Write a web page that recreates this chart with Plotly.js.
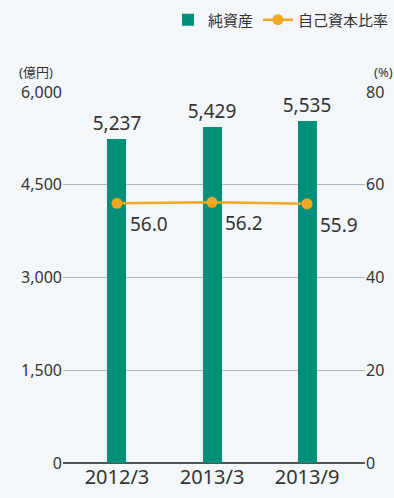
<!DOCTYPE html>
<html><head><meta charset="utf-8">
<script src="https://cdn.plot.ly/plotly-3.0.1.min.js"></script>
<style>html,body{margin:0;padding:0;background:#f3f7fa;}#chart{width:394px;height:498px;}</style>
</head><body><div id="chart"></div>
<script>
const categories = ['2012/3', '2013/3', '2013/9'];
const netAssets = [5237, 5429, 5535];
const equityRatio = [56.0, 56.2, 55.9];
const leftTicks = [0, 1500, 3000, 4500, 6000];
const rightTicks = [0, 20, 40, 60, 80];
const seriesNames = ['純資産', '自己資本比率'];
const unitLeft = '(億円)';
const unitRight = '(%)';

const FONT = 'Noto Sans, Noto Sans CJK JP, sans-serif';
const TEXT = '#333333';
const TEAL = '#008f79';
const ORANGE = '#f0a820';
const BG = '#f3f7fa';

const xIdx = categories.map((c, i) => i);

const bars = {
  type: 'bar', name: seriesNames[0], x: xIdx, y: netAssets,
  width: 0.2, marker: {color: TEAL},
  text: netAssets.map(v => v.toLocaleString('en-US')),
  textposition: 'outside', constraintext: 'none', cliponaxis: false,
  textfont: {family: FONT, size: 19, color: TEXT},
  hoverinfo: 'skip'
};
const line = {
  type: 'scatter', mode: 'lines+markers', name: seriesNames[1],
  x: xIdx, y: equityRatio, yaxis: 'y2',
  line: {color: ORANGE, width: 2.5}, marker: {color: ORANGE, size: 11},
  cliponaxis: false, hoverinfo: 'skip'
};

const annotations = equityRatio.map((v, i) => ({
  x: i, y: v, xref: 'x', yref: 'y2', text: v.toFixed(1), showarrow: false,
  xanchor: 'left', yanchor: 'middle', xshift: 11, yshift: -21,
  font: {family: FONT, size: 19, color: TEXT}
}));
annotations.push({xref: 'paper', yref: 'paper', x: -0.09, y: 1.055, text: unitLeft, showarrow: false,
  xanchor: 'center', yanchor: 'middle', font: {family: FONT, size: 13, color: TEXT}});
annotations.push({xref: 'paper', yref: 'paper', x: 1.06, y: 1.055, text: unitRight, showarrow: false,
  xanchor: 'center', yanchor: 'middle', font: {family: FONT, size: 13, color: TEXT}});

const layout = {
  width: 394, height: 498,
  margin: {l: 63, r: 29, t: 92, b: 35, autoexpand: false},
  paper_bgcolor: BG, plot_bgcolor: BG,
  font: {family: FONT, color: TEXT},
  separators: '.,',
  showlegend: true,
  legend: {orientation: 'h', xref: 'container', yref: 'container', x: 1.0, xanchor: 'right',
    y: 0.96, yanchor: 'middle',
    font: {family: FONT, size: 15, color: TEXT}, bgcolor: 'rgba(0,0,0,0)', itemwidth: 30,
    traceorder: 'normal'},
  xaxis: {range: [-0.568, 2.61], tickvals: xIdx, ticktext: categories, showgrid: false,
    zeroline: false, showline: false, ticks: '', tickfont: {family: FONT, size: 20, color: TEXT},
    automargin: false, fixedrange: true},
  yaxis: {range: [0, 6000], tickvals: leftTicks, tickformat: ',d', showgrid: true,
    gridcolor: '#b4b6b8', gridwidth: 1, zeroline: true, zerolinecolor: '#555555', zerolinewidth: 1.5,
    showline: false, ticks: '', automargin: false, tickfont: {family: FONT, size: 16, color: TEXT}},
  yaxis2: {range: [0, 80], tickvals: rightTicks, overlaying: 'y', side: 'right', showgrid: false,
    zeroline: false, showline: false, ticks: '', automargin: false, tickfont: {family: FONT, size: 16, color: TEXT}},
  annotations: annotations,
  bargap: 0
};

Plotly.newPlot('chart', [bars, line], layout, {displayModeBar: false, staticPlot: true});
</script>
</body></html>
